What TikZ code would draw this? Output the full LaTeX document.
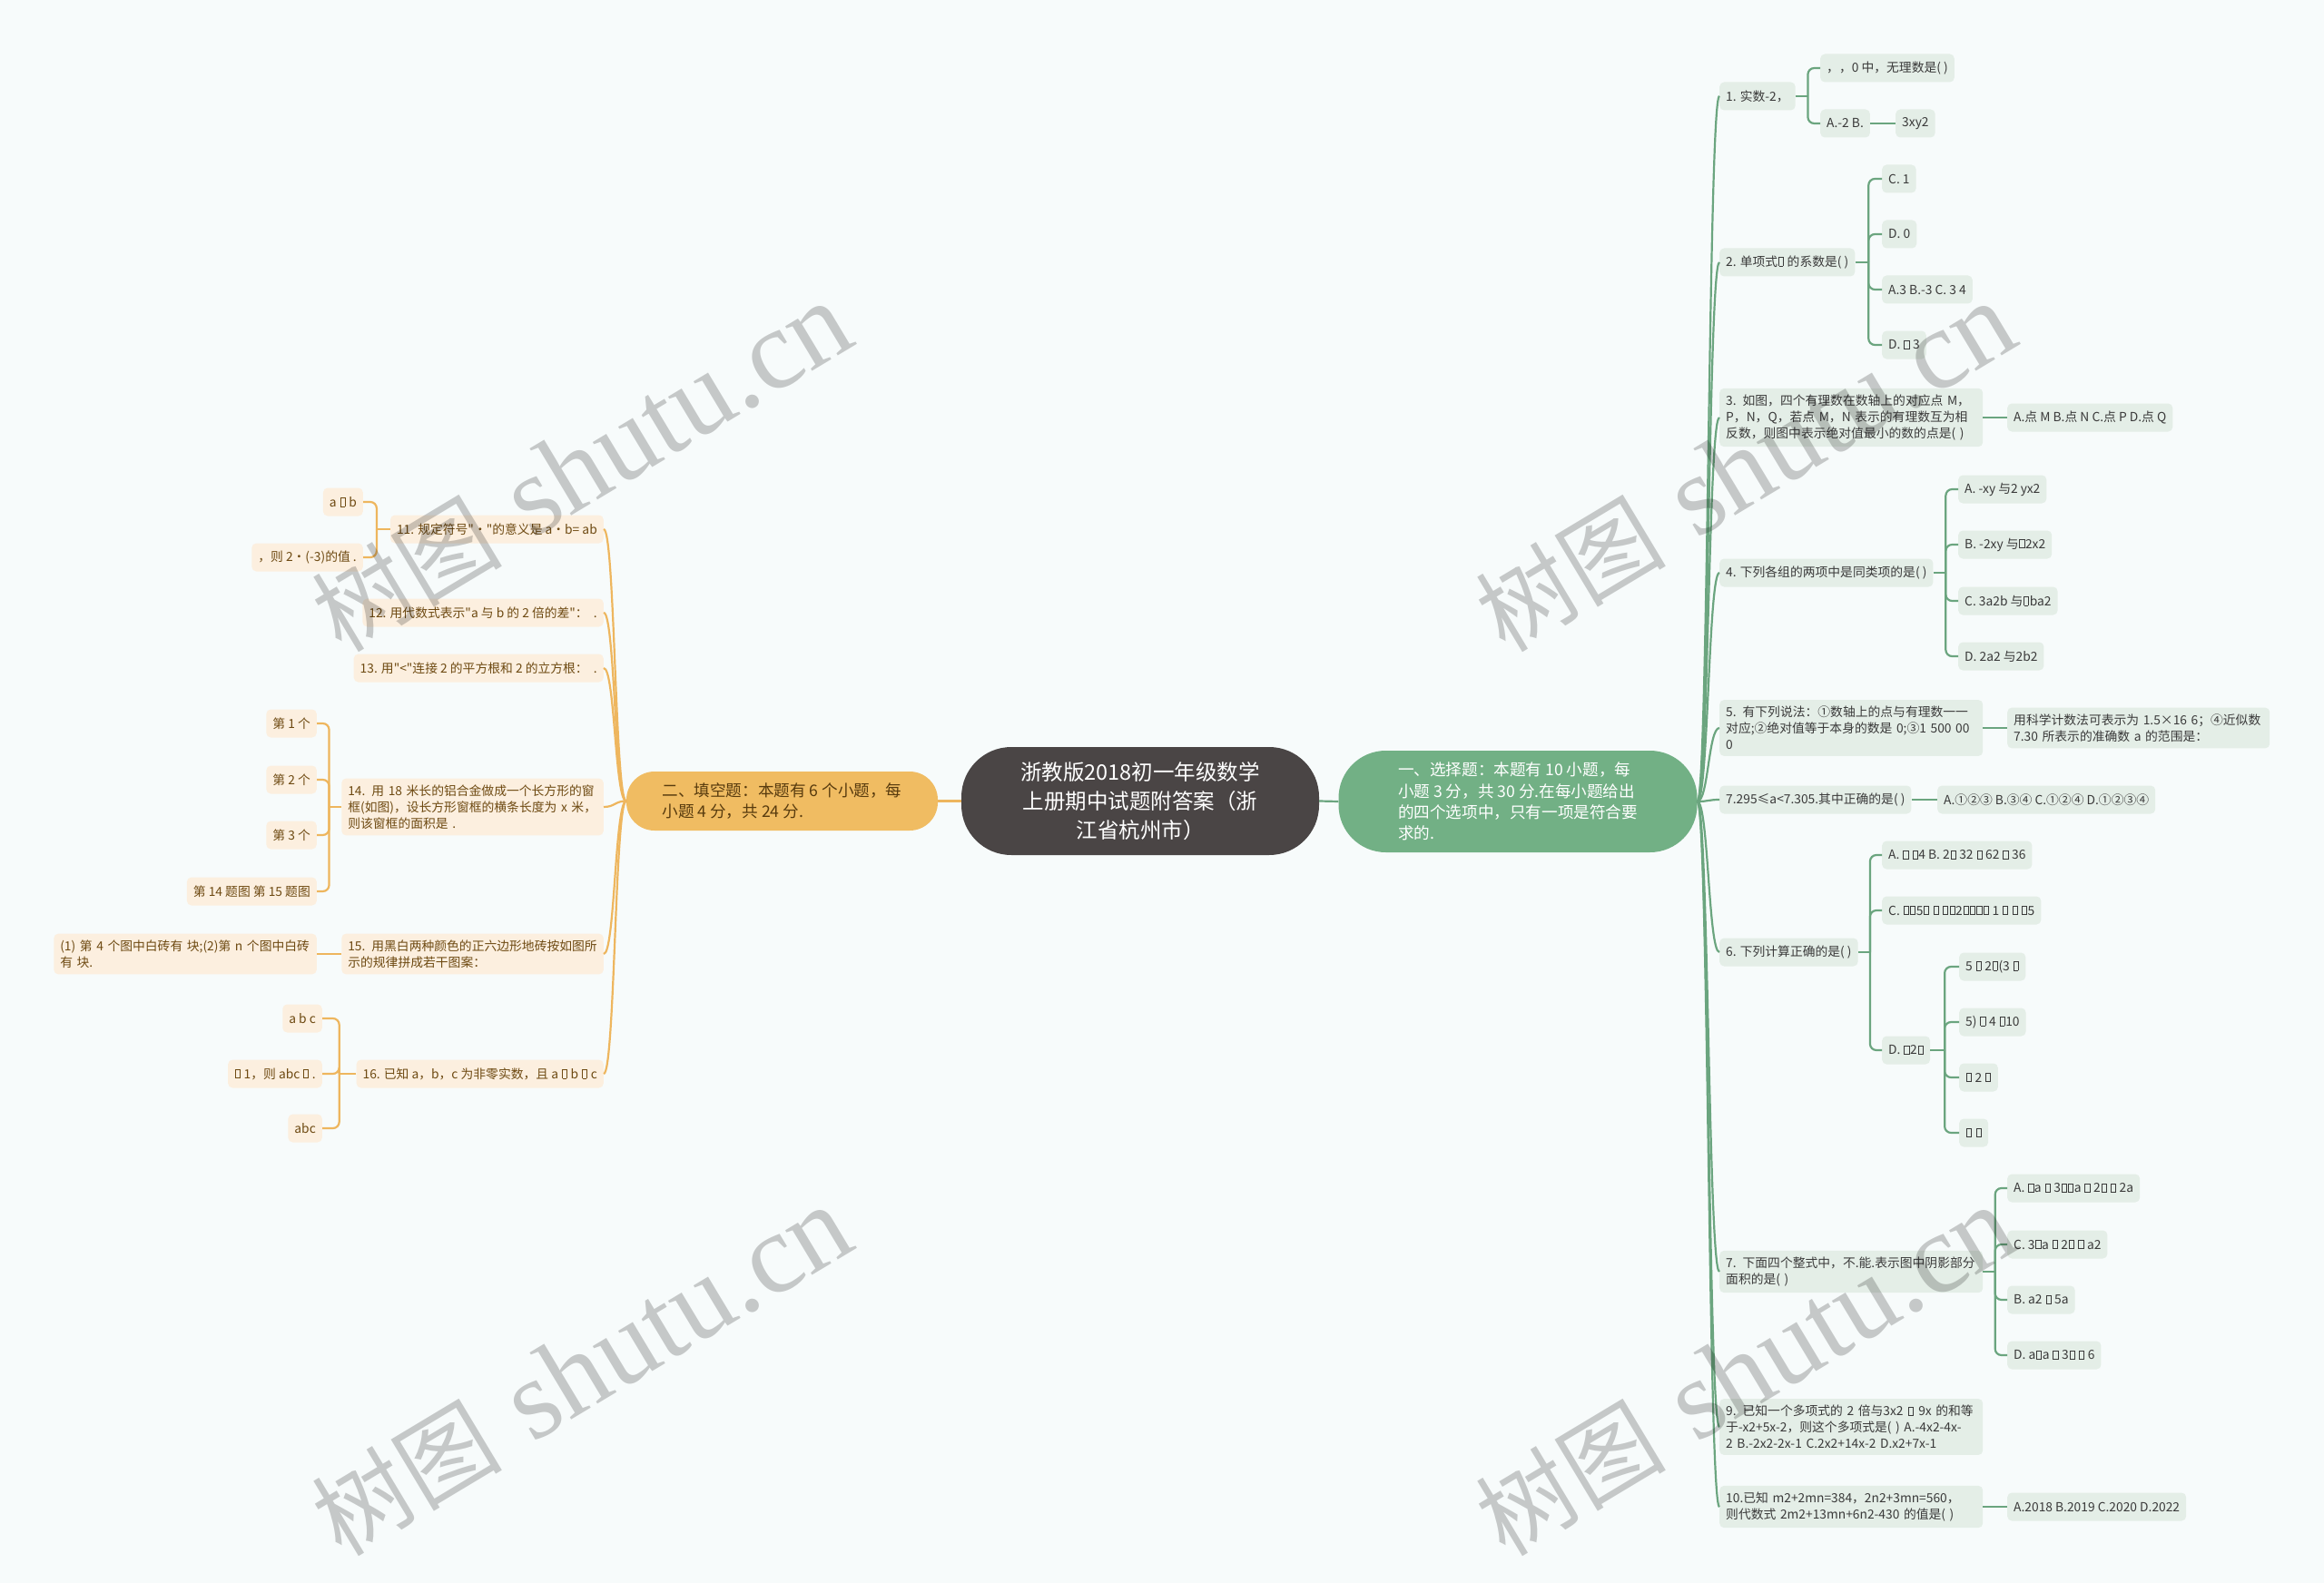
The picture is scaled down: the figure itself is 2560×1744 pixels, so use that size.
\documentclass[tikz,border=0pt]{standalone}
\usepackage{fontspec}
\usetikzlibrary{calc}
\newfontfamily\cjk{Noto Sans CJK SC}
\newfontfamily\wmserif{Liberation Serif}
\definecolor{bgc}{HTML}{F7FBFB}
\definecolor{gfill}{HTML}{E4EEE7}
\definecolor{glc}{HTML}{6BA57F}
\definecolor{gtext}{HTML}{3A3A3A}
\definecolor{rmain}{HTML}{72B085}
\definecolor{ofill}{HTML}{FCEFDF}
\definecolor{olc}{HTML}{EEB65E}
\definecolor{otext}{HTML}{6E4A12}
\definecolor{omain}{HTML}{F0BC62}
\definecolor{cfill}{HTML}{4A4545}
\newcommand\tf{\hbox{\kern0.8pt\vrule width0.6pt\vbox{\hrule height0.6pt\hbox to 4.6pt{\vrule height 8.8pt width0pt\hfil}\hrule height0.6pt}\vrule width0.6pt\kern0.8pt}}
\newcommand\rcurve[2]{\draw[gl] (#1.east) .. controls ($(#1.east)!0.5!(#1.east -| #2.west)$) and ($(#2.west)!0.5!(#2.west -| #1.east)$) .. (#2.west);}
\newcommand\lcurve[2]{\draw[ol] (#1.west) .. controls ($(#1.west)!0.5!(#1.west -| #2.east)$) and ($(#2.east)!0.5!(#2.east -| #1.west)$) .. (#2.east);}
\newcommand\rstub[2]{\coordinate (#1j) at ($(#1.east)!0.5!(#1.east -| #2.west)$); \draw[gl] (#1.east) -- (#1j);}
\newcommand\rel[2]{\draw[gl,rounded corners=7] (#1j) |- (#2.west);}
\newcommand\lstub[2]{\coordinate (#1j) at ($(#1.west)!0.5!(#1.west -| #2.east)$); \draw[ol] (#1.west) -- (#1j);}
\newcommand\lel[2]{\draw[ol,rounded corners=7] (#1j) |- (#2.east);}
\tikzset{
  base/.style={rounded corners=5, inner xsep=7, inner ysep=7, minimum height=31, align=left, font=\cjk\fontsize{13.8}{18}\selectfont},
  gnode/.style={base, fill=gfill, text=gtext, anchor=west},
  onode/.style={base, fill=ofill, text=otext, anchor=east},
  gl/.style={draw=glc, line width=2.2},
  ol/.style={draw=olc, line width=2.2},
  wm/.style={rotate=31, text=black, text opacity=0.2, inner sep=0}
}
\begin{document}
\begin{tikzpicture}[x=1pt,y=-1pt]
\fill[bgc] (0,0) rectangle (2560,1744);
\useasboundingbox (0,0) rectangle (2560,1744);

% main nodes
\node[fill=cfill, text=white, rounded corners=55, minimum width=394, minimum height=119, align=center, font=\cjk\fontsize{23.5}{32}\selectfont, inner sep=0] (C) at (1256,882.5) {浙教版2018初一年级数学\\上册期中试题附答案（浙\\江省杭州市）};
\node[fill=rmain, text=white, rounded corners=52, minimum width=395, minimum height=112, align=left, font=\cjk\fontsize{17.6}{23.4}\selectfont, inner sep=0] (R) at (1672,883) {一、选择题：本题有 10 小题，每\\小题 3 分，共 30 分.在每小题给出\\的四个选项中，只有一项是符合要\\求的.};
\node[fill=omain, text=otext!80!black, rounded corners=31, minimum width=343, minimum height=65, align=left, font=\cjk\fontsize{17.6}{23.4}\selectfont, inner sep=0] (L) at (861.5,882.5) {二、填空题：本题有 6 个小题，每\\小题 4 分，共 24 分.};
\draw[gl] (C.east) -- (R.west);
\draw[ol] (L.east) -- (C.west);

% right side
\node[gnode] (q1) at (1894,106) {1. 实数-2，};
\node[gnode] (q1a) at (2005,75) {，，0 中，无理数是( )};
\node[gnode] (q1b) at (2005,136) {A.-2 B.};
\node[gnode] (q1c) at (2088,136) {3xy2};
\node[gnode] (q2) at (1894,289) {2. 单项式\tf{} 的系数是( )};
\node[gnode] (q2a) at (2073,197) {C. 1};
\node[gnode] (q2b) at (2073,258) {D. 0};
\node[gnode] (q2c) at (2073,319) {A.3 B.-3 C. 3 4};
\node[gnode] (q2d) at (2073,380) {D. \tf{} 3};
\node[gnode, text width=276] (q3) at (1894,460) {3. 如图，四个有理数在数轴上的对应点 M，\\P，N，Q，若点 M，N 表示的有理数互为相\\反数，则图中表示绝对值最小的数的点是( )};
\node[gnode] (q3a) at (2211,460) {A.点 M B.点 N C.点 P D.点 Q};
\node[gnode] (q4) at (1894,631) {4. 下列各组的两项中是同类项的是( )};
\node[gnode] (q4a) at (2157,539) {A. -xy 与2 yx2};
\node[gnode] (q4b) at (2157,600) {B. -2xy 与\tf2x2};
\node[gnode] (q4c) at (2157,662) {C. 3a2b 与\tf ba2};
\node[gnode] (q4d) at (2157,723) {D. 2a2 与2b2};
\node[gnode, text width=276] (q5) at (1894,802) {5. 有下列说法：①数轴上的点与有理数一一\\对应;②绝对值等于本身的数是 0;③1 500 00\\0};
\node[gnode, text width=275] (q5a) at (2211,802) {用科学计数法可表示为 1.5×16 6；④近似数\\7.30 所表示的准确数 a 的范围是：};
\node[gnode] (q5b) at (1894,881) {7.295≤a<7.305.其中正确的是( )};
\node[gnode] (q5c) at (2134,881) {A.①②③ B.③④ C.①②④ D.①②③④};
\node[gnode] (q6) at (1894,1049) {6. 下列计算正确的是( )};
\node[gnode] (q6a) at (2073,942) {A. \tf{} \tf4 B. 2\tf{} 32 \tf{} 62 \tf{} 36};
\node[gnode] (q6b) at (2073,1003) {C. \tf\tf5\tf{} \tf{} \tf\tf2\tf\tf\tf\tf{} 1 \tf{} \tf{} \tf5};
\node[gnode] (q6c) at (2073,1157) {D. \tf2\tf};
\node[gnode] (q6c1) at (2158,1065) {5 \tf{} 2\tf(3 \tf};
\node[gnode] (q6c2) at (2158,1126) {5) \tf{} 4 \tf10};
\node[gnode] (q6c3) at (2158,1187) {\tf{} 2 \tf};
\node[gnode] (q6c4) at (2158,1248) {\tf{} \tf};
\node[gnode, text width=276] (q7) at (1894,1401) {7. 下面四个整式中，不.能.表示图中阴影部分\\面积的是( )};
\node[gnode] (q7a) at (2211,1309) {A. \tf a \tf{} 3\tf\tf a \tf{} 2\tf{} \tf{} 2a};
\node[gnode] (q7b) at (2211,1371) {C. 3\tf a \tf{} 2\tf{} \tf{} a2};
\node[gnode] (q7c) at (2211,1432) {B. a2 \tf{} 5a};
\node[gnode] (q7d) at (2211,1493) {D. a\tf a \tf{} 3\tf{} \tf{} 6};
\node[gnode, text width=276] (q9) at (1894,1572) {9. 已知一个多项式的 2 倍与3x2 \tf{} 9x 的和等\\于-x2+5x-2，则这个多项式是( ) A.-4x2-4x-\\2 B.-2x2-2x-1 C.2x2+14x-2 D.x2+7x-1};
\node[gnode, text width=276] (q10) at (1894,1660) {10.已知 m2+2mn=384，2n2+3mn=560，\\则代数式 2m2+13mn+6n2-430 的值是( )};
\node[gnode] (q10a) at (2211,1660) {A.2018 B.2019 C.2020 D.2022};

\foreach \n in {q1,q2,q3,q4,q5,q5b,q6,q7,q9,q10} {\rcurve{R}{\n}}
\rstub{q1}{q1a} \rel{q1}{q1a} \rel{q1}{q1b}
\draw[gl] (q1b.east) -- (q1c.west);
\rstub{q2}{q2a} \rel{q2}{q2a} \rel{q2}{q2b} \rel{q2}{q2c} \rel{q2}{q2d}
\draw[gl] (q3.east) -- (q3a.west);
\rstub{q4}{q4a} \rel{q4}{q4a} \rel{q4}{q4b} \rel{q4}{q4c} \rel{q4}{q4d}
\draw[gl] (q5.east) -- (q5a.west);
\draw[gl] (q5b.east) -- (q5c.west);
\rstub{q6}{q6a} \rel{q6}{q6a} \rel{q6}{q6b} \rel{q6}{q6c}
\rstub{q6c}{q6c1} \rel{q6c}{q6c1} \rel{q6c}{q6c2} \rel{q6c}{q6c3} \rel{q6c}{q6c4}
\rstub{q7}{q7a} \rel{q7}{q7a} \rel{q7}{q7b} \rel{q7}{q7c} \rel{q7}{q7d}
\draw[gl] (q10.east) -- (q10a.west);

% left side
\node[onode] (p11) at (665,583) {11. 规定符号"・"的意义是 a・b= ab};
\node[onode] (p11a) at (400,553) {a \tf{} b};
\node[onode] (p11b) at (400,614) {，则 2・(-3)的值 .};
\node[onode] (p12) at (665,675) {12. 用代数式表示"a 与 b 的 2 倍的差"：\ \ .};
\node[onode] (p13) at (665,736) {13. 用"<"连接 2 的平方根和 2 的立方根：\ \ .};
\node[onode, text width=274.5] (p14) at (665,889) {14. 用 18 米长的铝合金做成一个长方形的窗\\框(如图)，设长方形窗框的横条长度为 x 米，\\则该窗框的面积是 .};
\node[onode] (p14a) at (349,797) {第 1 个};
\node[onode] (p14b) at (349,859) {第 2 个};
\node[onode] (p14c) at (349,920) {第 3 个};
\node[onode] (p14d) at (349,982) {第 14 题图 第 15 题图};
\node[onode, text width=274.5] (p15) at (665,1051) {15. 用黑白两种颜色的正六边形地砖按如图所\\示的规律拼成若干图案：};
\node[onode, text width=275.5] (p15a) at (349,1051) {(1) 第 4 个图中白砖有 块;(2)第 n 个图中白砖\\有 块.};
\node[onode] (p16) at (665,1183) {16. 已知 a，b，c 为非零实数，且 a \tf{} b \tf{} c};
\node[onode] (p16a) at (355,1122) {a b c};
\node[onode] (p16b) at (355,1183) {\tf{} 1，则 abc \tf{} .};
\node[onode] (p16c) at (355,1243) {abc};

\foreach \n in {p11,p12,p13,p14,p15,p16} {\lcurve{L}{\n}}
\lstub{p11}{p11a} \lel{p11}{p11a} \lel{p11}{p11b}
\lstub{p14}{p14a} \lel{p14}{p14a} \lel{p14}{p14b} \lel{p14}{p14c} \lel{p14}{p14d}
\draw[ol] (p15.west) -- (p15a.east);
\lstub{p16}{p16a} \lel{p16}{p16a} \lel{p16}{p16b} \lel{p16}{p16c}

% watermarks
\foreach \wx/\wy [count=\i] in {641/515, 1923/515, 641/1511, 1923/1511} {
  \node[wm] (wm\i) at (\wx,\wy) {{\cjk\fontsize{105}{110}\selectfont 树图}\hspace{34pt}{\wmserif\fontsize{125}{130}\selectfont shutu.cn}};
}
\end{tikzpicture}
\end{document}
